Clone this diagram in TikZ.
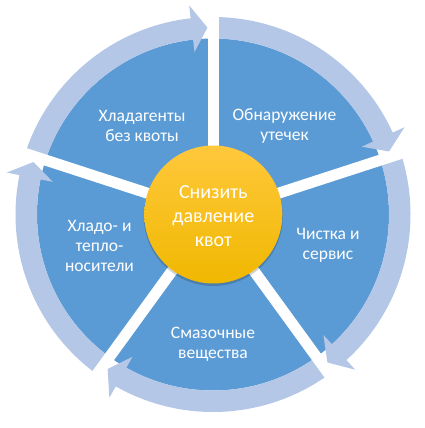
\documentclass[tikz,border=0pt]{standalone}
\usepackage{fontspec}
\setmainfont{Carlito}
\definecolor{pieblue}{RGB}{91,155,213}
\definecolor{ringblue}{RGB}{180,199,231}
\definecolor{goldtop}{RGB}{255,200,60}
\definecolor{goldbot}{RGB}{240,184,0}
\begin{document}
\begin{tikzpicture}[x=1pt,y=1pt,
  seglabel/.style={text=white,font=\fontsize{17.5}{20}\selectfont,align=center,inner sep=0pt},
  corelabel/.style={text=white,font=\fontsize{20}{24}\selectfont,align=center,inner sep=0pt},
  gapline/.style={white,line width=11pt},
  ringarrow/.style={fill=ringblue}]
\useasboundingbox (-213,-213.5) rectangle (212,214.5);
% pie
\fill[pieblue] (0,0) circle (176);
% cycle arrows
\foreach \a in {162,90,18,-54,-126} {
  \pgfmathsetmacro\b{\a-72}
  \pgfmathsetmacro\h{\b+6.5}
  \pgfmathsetmacro\t{\b+1.7}
  \fill[ringarrow] (\a:197.5) arc[start angle=\a, end angle=\h, radius=197.5]
     -- (\h:210.5) -- (\t:187) -- (\h:163.5) -- (\h:176)
     arc[start angle=\h, end angle=\a, radius=176] -- cycle;
}
% gaps
\coordinate (o) at (0,0);
\foreach \a/\n in {90/g1,18/g2,-54/g3,-126/g4,162/g5} {
  \coordinate (\n) at (\a:216);
  \draw[gapline] (o) -- (\n);
}
% centre
\fill[black,opacity=0.18] (0.3,-2) circle (69.5);
\node[circle,minimum size=138pt,inner sep=0pt,top color=goldtop,bottom color=goldbot] (core) at (0.3,0) {};
\node[corelabel] (coretext) at (0.3,-2) {Снизить\\давление\\квот};
% labels
\node[seglabel] (s1) at (-71,88.5) {Хладагенты\\без квоты};
\node[seglabel] (s2) at (71.5,88.5) {Обнаружение\\утечек};
\node[seglabel] (s3) at (115,-30.5) {Чистка и\\сервис};
\node[seglabel] (s4) at (0,-129.5) {Смазочные\\вещества};
\node[seglabel] (s5) at (-113.5,-31) {Хладо- и\\тепло-\\носители};
\end{tikzpicture}
\end{document}
